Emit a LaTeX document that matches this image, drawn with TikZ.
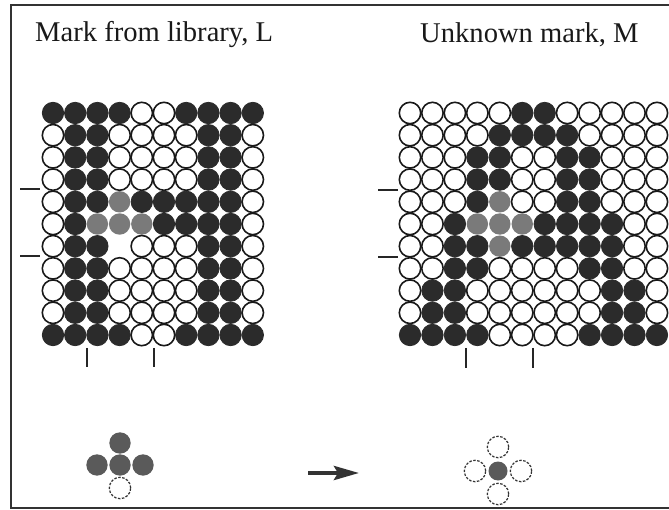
\documentclass[tikz,border=0pt]{standalone}
\usepackage{fontspec}
\setmainfont{Liberation Serif}
\usetikzlibrary{arrows.meta}
\definecolor{darkdot}{HTML}{2B2B2B}
\definecolor{graydot}{HTML}{7A7A7A}
\definecolor{crossgray}{HTML}{5A5A5A}
\definecolor{framecol}{HTML}{333333}
\tikzset{
  cellbase/.style={circle, minimum size=21.4pt, inner sep=0pt, outer sep=0pt},
  cellW/.style={cellbase, draw=black!90, line width=1.6pt, fill=white},
  cellD/.style={cellbase, fill=darkdot, draw=darkdot, line width=0.8pt},
  cellG/.style={cellbase, fill=graydot},
  cellE/.style={cellbase, fill=white},
  crossG/.style={cellbase, fill=crossgray},
  crossE/.style={cellbase, draw=black!80, dash pattern=on 2.5pt off 1.5pt, line width=1.2pt, fill=white},
  tickmark/.style={draw=black!85, line width=1.2pt},
  title/.style={anchor=base west, inner sep=0pt, font=\fontsize{28.6}{30}\selectfont, text=black!90},
  frameline/.style={draw=framecol, line width=1.8pt}
}
\begin{document}
\begin{tikzpicture}[x=1pt, y=-1pt]
\useasboundingbox (0,0) rectangle (669,510);
% frame
\coordinate (ftr) at (669,5);
\coordinate (ftl) at (11,5);
\coordinate (fbl) at (11,508);
\coordinate (fbr) at (669,508);
\draw[frameline] (ftr) -- (ftl) -- (fbl) -- (fbr);
% titles
\node[title] (titleL) at (35,42) {Mark from library, L};
\node[title] (titleM) at (420,43) {Unknown mark, M};
% left grid (library mark)
\foreach \row [count=\j from 0] in {
  {D,D,D,D,W,W,D,D,D,D},
  {W,D,D,W,W,W,W,D,D,W},
  {W,D,D,W,W,W,W,D,D,W},
  {W,D,D,W,W,W,W,D,D,W},
  {W,D,D,G,D,D,D,D,D,W},
  {W,D,G,G,G,D,D,D,D,W},
  {W,D,D,E,W,W,W,D,D,W},
  {W,D,D,W,W,W,W,D,D,W},
  {W,D,D,W,W,W,W,D,D,W},
  {W,D,D,W,W,W,W,D,D,W},
  {D,D,D,D,W,W,D,D,D,D}} {
  \foreach \c [count=\i from 0] in \row {
    \node[cell\c] (L-\j-\i) at (53+22.2*\i, 113+22.2*\j) {};
  }
}
% right grid (unknown mark)
\foreach \row [count=\j from 0] in {
  {W,W,W,W,W,D,D,W,W,W,W,W},
  {W,W,W,W,D,D,D,D,W,W,W,W},
  {W,W,W,D,D,W,W,D,D,W,W,W},
  {W,W,W,D,D,W,W,D,D,W,W,W},
  {W,W,W,D,G,W,W,D,D,W,W,W},
  {W,W,D,G,G,G,D,D,D,D,W,W},
  {W,W,D,D,G,D,D,D,D,D,W,W},
  {W,W,D,D,W,W,W,W,D,D,W,W},
  {W,D,D,W,W,W,W,W,W,D,D,W},
  {W,D,D,W,W,W,W,W,W,D,D,W},
  {D,D,D,D,W,W,W,W,D,D,D,D}} {
  \foreach \c [count=\i from 0] in \row {
    \node[cell\c] (M-\j-\i) at (410+22.45*\i, 113+22.2*\j) {};
  }
}
% tick marks, left grid
\coordinate (lt1a) at (20,189);  \coordinate (lt1b) at (40,189);
\coordinate (lt2a) at (20,256);  \coordinate (lt2b) at (40,256);
\coordinate (lb1a) at (87,348);  \coordinate (lb1b) at (87,367);
\coordinate (lb2a) at (154,348); \coordinate (lb2b) at (154,367);
\draw[tickmark] (lt1a) -- (lt1b);
\draw[tickmark] (lt2a) -- (lt2b);
\draw[tickmark] (lb1a) -- (lb1b);
\draw[tickmark] (lb2a) -- (lb2b);
% tick marks, right grid
\coordinate (rt1a) at (378,190);  \coordinate (rt1b) at (398,190);
\coordinate (rt2a) at (378,257);  \coordinate (rt2b) at (398,257);
\coordinate (rb1a) at (466,348);  \coordinate (rb1b) at (466,368);
\coordinate (rb2a) at (533,348);  \coordinate (rb2b) at (533,368);
\draw[tickmark] (rt1a) -- (rt1b);
\draw[tickmark] (rt2a) -- (rt2b);
\draw[tickmark] (rb1a) -- (rb1b);
\draw[tickmark] (rb2a) -- (rb2b);
% bottom-left cross
\node[crossG] (cl-top) at (120,443) {};
\node[crossG] (cl-left) at (97,465) {};
\node[crossG] (cl-right) at (143,465) {};
\node[crossE] (cl-bot) at (120,488) {};
\node[crossG] (cl-mid) at (120,465) {};
% arrow
\coordinate (arrA) at (308,473);
\coordinate (arrB) at (359,473);
\draw[draw=black!80, line width=4pt, -{Stealth[length=25pt, width=14pt, inset=4pt]}] (arrA) -- (arrB);
% bottom-right cross
\node[crossE] (cr-top) at (498,447) {};
\node[crossE] (cr-left) at (475,471) {};
\node[crossE] (cr-right) at (521,471) {};
\node[crossE] (cr-bot) at (498,494) {};
\node[crossG, minimum size=19pt] (cr-mid) at (498,471) {};
\end{tikzpicture}
\end{document}
